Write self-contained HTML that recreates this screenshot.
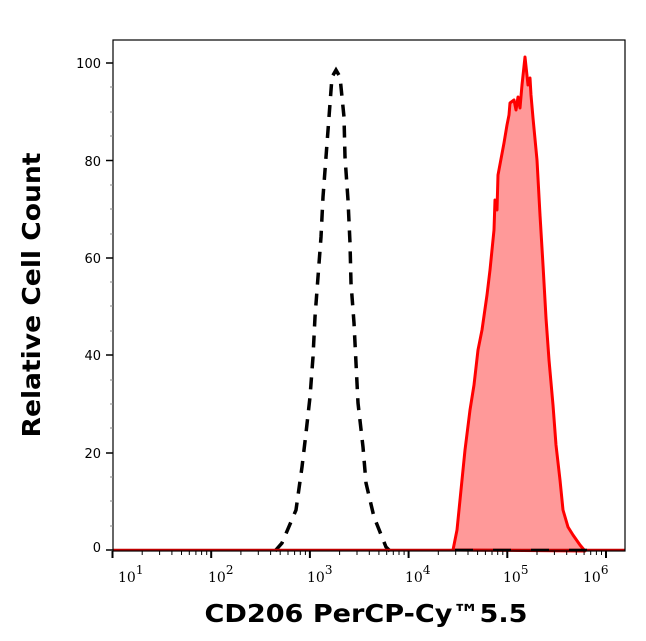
<!DOCTYPE html>
<html><head><meta charset="utf-8"><style>
html,body{margin:0;padding:0;background:#fff;}
svg{display:block;}
</style></head><body>
<svg width="646" height="641" viewBox="0 0 646 641" xmlns="http://www.w3.org/2000/svg">
<rect width="646" height="641" fill="#fff"/>
<path d="M453,550 L457,530 L461,490 L465,450 L470,410 L474,385 L478,350 L482,330 L487,295 L490,270 L494,230 L495,200 L497,210 L498,175 L504,143 L507,125 L509,115 L510,103 L514,100 L516,110 L518,97 L520,108 L522,85 L525,57 L528,85 L530,78 L531,95 L533,118 L537,160 L540,215 L543,265 L546,318 L549,360 L553,405 L556,445 L560,480 L563,510 L568,527 L573,535 L580,545 L585,551 Z" fill="#ff9999" stroke="#ff0000" stroke-width="3" stroke-linejoin="round"/>
<path d="M275,551 L282,543 L296,510 L302,467 L306,433 L310,397 L313,357 L315,317 L318,277 L321,237 L323,197 L326,157 L329,117 L332,77 L336,70 L340,77 L344,117 L345,157 L348,200 L350,243 L351,283 L354,323 L356,363 L358,403 L363,447 L366,483 L374,517 L386,547 L390,551" fill="none" stroke="#000" stroke-width="3.5" stroke-dasharray="12,9"/>
<line x1="113" y1="550" x2="625" y2="550" stroke="#c00000" stroke-width="2.5"/>
<line x1="455" y1="550" x2="590" y2="550" stroke="#000" stroke-width="2.5" stroke-dasharray="18,20"/>
<rect x="113" y="40" width="512" height="511" fill="none" stroke="#000" stroke-width="1.2"/>
<g stroke="#000" stroke-width="1.5">
<line x1="106" y1="63" x2="113" y2="63"/>
<line x1="106" y1="160.5" x2="113" y2="160.5"/>
<line x1="106" y1="258" x2="113" y2="258"/>
<line x1="106" y1="355" x2="113" y2="355"/>
<line x1="106" y1="453" x2="113" y2="453"/>
<line x1="106" y1="550" x2="113" y2="550"/>
</g>
<g stroke="#888" stroke-width="1">
<line x1="110" y1="87" x2="113" y2="87"/><line x1="110" y1="112" x2="113" y2="112"/><line x1="110" y1="136" x2="113" y2="136"/>
<line x1="110" y1="185" x2="113" y2="185"/><line x1="110" y1="209" x2="113" y2="209"/><line x1="110" y1="234" x2="113" y2="234"/>
<line x1="110" y1="282" x2="113" y2="282"/><line x1="110" y1="306" x2="113" y2="306"/><line x1="110" y1="331" x2="113" y2="331"/>
<line x1="110" y1="380" x2="113" y2="380"/><line x1="110" y1="404" x2="113" y2="404"/><line x1="110" y1="428" x2="113" y2="428"/>
<line x1="110" y1="477" x2="113" y2="477"/><line x1="110" y1="501" x2="113" y2="501"/><line x1="110" y1="526" x2="113" y2="526"/>
</g>
<path stroke="#000" stroke-width="2" fill="none" d="M112.5,551v7 M211.2,551v7 M309.9,551v7 M408.6,551v7 M507.3,551v7 M606,551v7"/>
<path stroke="#000" stroke-width="1" fill="none" d="
M142.2,551v4 M159.6,551v4 M171.9,551v4 M181.5,551v4 M189.3,551v4 M195.9,551v4 M201.6,551v4 M206.7,551v4
M240.9,551v4 M258.3,551v4 M270.6,551v4 M280.2,551v4 M288,551v4 M294.6,551v4 M300.3,551v4 M305.4,551v4
M339.6,551v4 M357,551v4 M369.3,551v4 M378.9,551v4 M386.7,551v4 M393.3,551v4 M399,551v4 M404.1,551v4
M438.3,551v4 M455.7,551v4 M468,551v4 M477.6,551v4 M485.4,551v4 M492,551v4 M497.7,551v4 M502.8,551v4
M537,551v4 M554.4,551v4 M566.7,551v4 M576.3,551v4 M584.1,551v4 M590.7,551v4 M596.4,551v4 M601.5,551v4"/>
<g font-family="'DejaVu Sans','Liberation Sans',sans-serif" font-size="13" fill="#000" text-anchor="end">
<text x="101" y="68">100</text>
<text x="101" y="166">80</text>
<text x="101" y="263">60</text>
<text x="101" y="360">40</text>
<text x="101" y="458">20</text>
<text x="101" y="552">0</text>
</g>
<g font-family="'DejaVu Serif','Liberation Serif',serif" font-size="14" fill="#000">
<text x="118" y="582">10<tspan font-size="12" dy="-8">1</tspan></text>
<text x="208" y="582">10<tspan font-size="12" dy="-8">2</tspan></text>
<text x="307" y="582">10<tspan font-size="12" dy="-8">3</tspan></text>
<text x="405" y="582">10<tspan font-size="12" dy="-8">4</tspan></text>
<text x="503" y="582">10<tspan font-size="12" dy="-8">5</tspan></text>
<text x="583" y="582">10<tspan font-size="12" dy="-8">6</tspan></text>
</g>
<text x="366" y="622" text-anchor="middle" font-family="'DejaVu Sans','Liberation Sans',sans-serif" font-weight="bold" font-size="25" textLength="323" lengthAdjust="spacingAndGlyphs">CD206 PerCP-Cy™5.5</text>
<text transform="translate(40,295) rotate(-90)" text-anchor="middle" font-family="'DejaVu Sans','Liberation Sans',sans-serif" font-weight="bold" font-size="25" textLength="285" lengthAdjust="spacingAndGlyphs">Relative Cell Count</text>
</svg>
</body></html>
